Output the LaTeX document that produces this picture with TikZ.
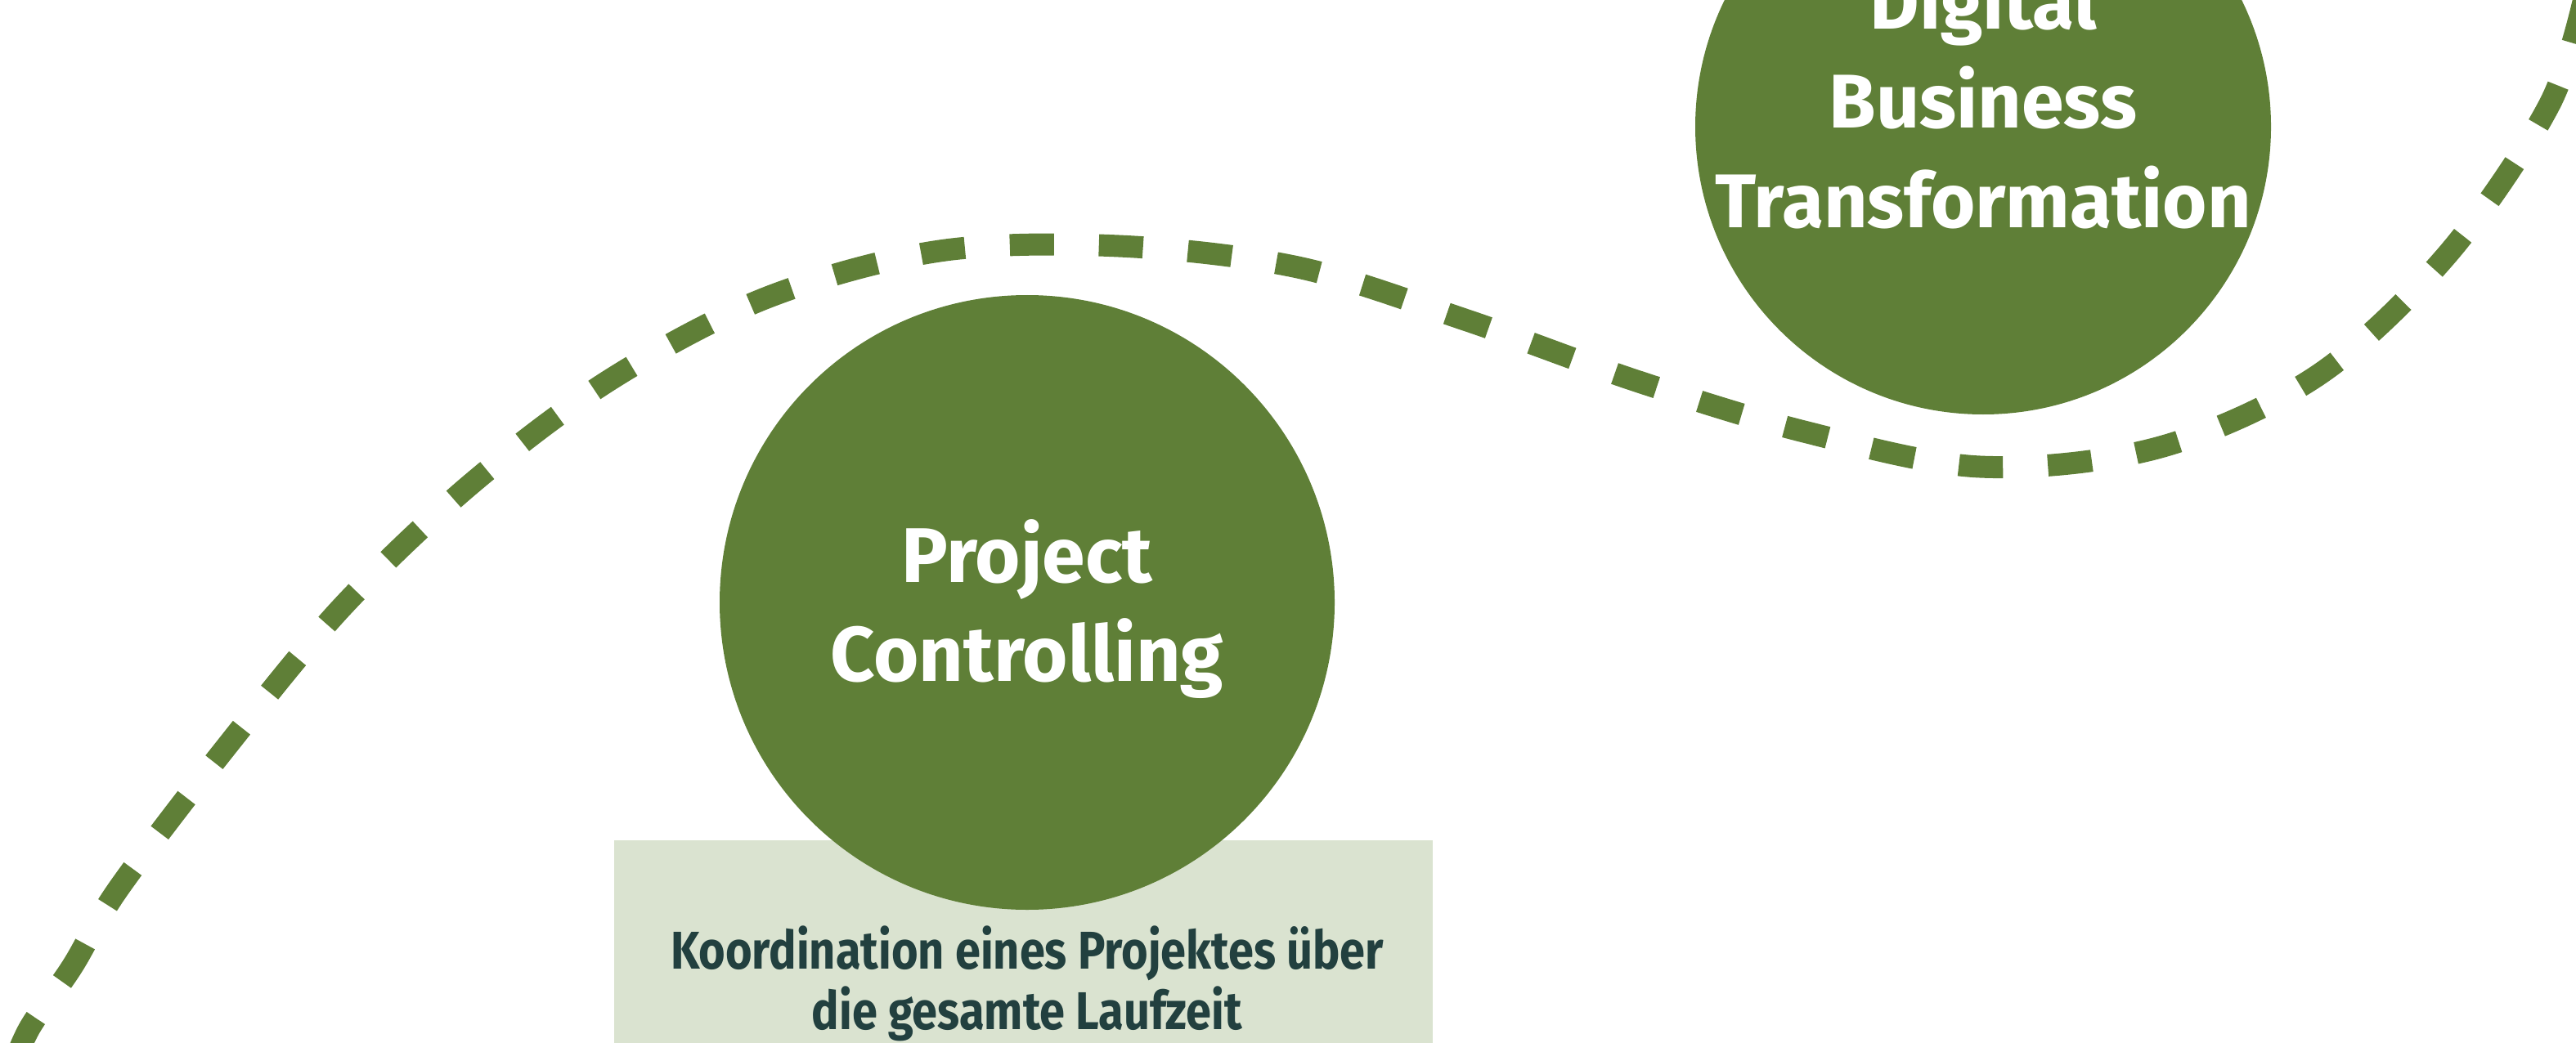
\documentclass[tikz,border=0pt]{standalone}
\usepackage{fontspec}
\setmainfont{Fira Sans}
\newfontfamily\notefont[FakeStretch=0.86]{Fira Sans}
\usetikzlibrary{positioning}
\definecolor{leaf}{HTML}{5F7F37}
\definecolor{sage}{HTML}{DAE3D0}
\definecolor{ink}{HTML}{22403F}
\tikzstyle{stage}=[circle, fill=leaf, inner sep=0pt]
\tikzstyle{title}=[text=white, align=center, font=\fontsize{27}{34.5}\selectfont\bfseries]
\tikzstyle{note}=[fill=sage, inner sep=0pt]
\tikzstyle{trail}=[draw=leaf, line width=2.7mm, dash pattern=on 5.4mm off 5.5mm, dash phase=8.1mm]

\begin{document}
\begin{tikzpicture}
  \useasboundingbox (0,0) rectangle (31.5,12.75);
  \clip (0,0) rectangle (31.5,12.75);
  \draw[trail] plot[smooth, tension=0.55] coordinates {(0.1,-0.45) (0.36,0.17) (0.88,0.92) (1.45,1.88) (2.75,3.59) (4.18,5.32) (5.75,6.82) (7.47,8.11) (9.38,9.11) (11.49,9.68) (13.68,9.74) (15.87,9.48) (17.94,8.83) (20.01,8.09) (22.06,7.47) (24.21,7.04) (26.38,7.27) (28.33,8.15) (29.93,9.64) (31.18,11.48) (31.64,12.95)};
  \node[note, minimum width=10.01cm, minimum height=3cm, anchor=north] (desc) at (12.515,2.48) {};
  \node[stage, minimum size=7.52cm] (pc) at (12.56,5.38) {};
  \node[title] (pctext) at (12.56,5.30) {Project\\Controlling};
  \node[text=ink, align=center, font=\notefont\fontsize{18.5}{21}\selectfont\bfseries] (desctext) at (12.56,0.72) {Koordination eines Projektes über\\die gesamte Laufzeit};
  \node[stage, minimum size=7.04cm] (dbt) at (24.25,11.20) {};
  \node[title, font=\fontsize{26.5}{34.5}\selectfont\bfseries] (dbttext) at (24.25,11.55) {Digital\\Business\\Transformation};
\end{tikzpicture}
\end{document}
